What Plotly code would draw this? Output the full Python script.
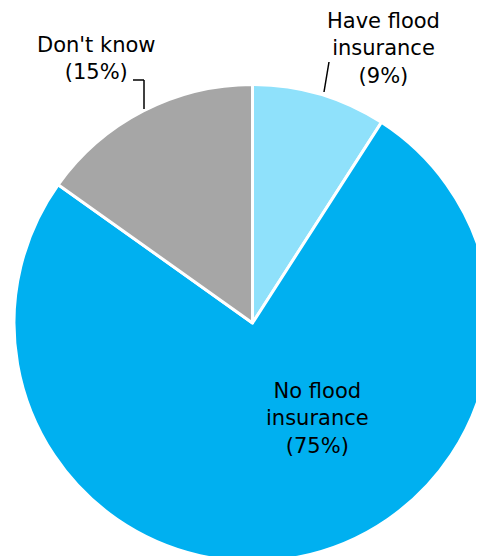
import plotly.graph_objects as go

W, H = 484, 556
OFF = 8  # page body margin shifts the figure by this many pixels

labels = ["Have flood insurance", "No flood insurance", "Don't know"]
label_text = ["Have flood<br>insurance", "No flood<br>insurance", "Don't know"]
values = [9, 75, 15]
colors = ["#8FE1FB", "#00B0F0", "#A6A6A6"]

fig = go.Figure()

# pie centre (~250, 320) on screen, radius ~235 px
cx, cy, r = 252.5 - OFF, 323 - OFF, 238.5
fig.add_trace(go.Pie(
    labels=labels, values=values, sort=False,
    direction="clockwise", rotation=0,
    marker=dict(colors=colors, line=dict(color="white", width=3)),
    textinfo="none", hoverinfo="label+percent",
    domain=dict(x=[(cx - r) / W, (cx + r) / W],
                y=[1 - (cy + r) / H, 1 - (cy - r) / H]),
    showlegend=False,
))

def px(x, y):
    return (x - OFF) / W, 1 - (y - OFF) / H

# label positions (screen pixel centres)
label_pos = [(383, 48), (317, 418), (96, 58)]
font = dict(family="DejaVu Sans", size=21, color="black")
for txt, v, (x, y) in zip(label_text, values, label_pos):
    ax, ay = px(x, y)
    fig.add_annotation(x=ax, y=ay, xref="paper", yref="paper",
                       text=f"{txt}<br>({v}%)", showarrow=False,
                       font=font, align="center",
                       xanchor="center", yanchor="middle")

# leader lines
def seg(x0, y0, x1, y1):
    a, b = px(x0, y0)
    c, d = px(x1, y1)
    fig.add_shape(type="line", xref="paper", yref="paper",
                  x0=a, y0=b, x1=c, y1=d,
                  line=dict(color="black", width=1.5))

seg(329, 62, 324, 92)
seg(133, 80, 144, 80)
seg(144, 80, 144, 109)

fig.update_layout(width=W, height=H, margin=dict(l=0, r=0, t=0, b=0),
                  paper_bgcolor="white", plot_bgcolor="white")

fig.write_html("out.html")
